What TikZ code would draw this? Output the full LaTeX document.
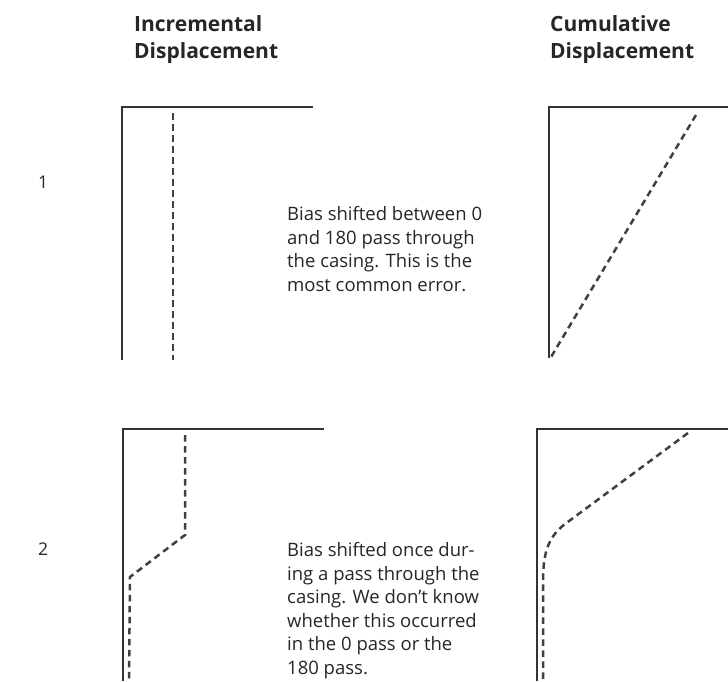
\documentclass[tikz,border=0pt]{standalone}
\usepackage{fontspec}
\setmainfont{Open Sans}
\usepackage{tikz}
\usetikzlibrary{positioning,calc}

\begin{document}
\begin{tikzpicture}[
    x=1pt, y=-1pt,
    head/.style={
        anchor=base west,
        inner sep=0pt,
        align=left,
        text=black!85,
        font=\fontsize{21}{27}\selectfont\bfseries
    },
    desc/.style={
        anchor=base west,
        inner sep=0pt,
        align=left,
        text=black!85,
        font=\fontsize{18.5}{23.5}\selectfont
    },
    num/.style={
        anchor=base west,
        inner sep=0pt,
        text=black!85,
        font=\fontsize{17.5}{21}\selectfont
    },
    frame/.style={
        draw=black!80,
        line width=1.8pt
    },
    trace/.style={
        draw=black!75,
        line width=2.5pt,
        dash pattern=on 6.5pt off 4.5pt
    }
]

\useasboundingbox (0,0) rectangle (728,681);

% column titles (base = last line)
\node[head] (inchead) at (134,58) {Incremental\\Displacement};
\node[head] (cumhead) at (550,58) {Cumulative\\Displacement};

% case numbers
\node[num] (one) at (38,188) {1};
\node[num] (two) at (38,555) {2};

% case 1
\coordinate (inc1) at (122,107);
\coordinate (cum1) at (549,107);
\draw[frame] (inc1 |- 0,360) -- (inc1) -- (313,107);
\draw[frame] (cum1 |- 0,358) -- (cum1) -- (728,107);
\draw[trace] (173,113) -- (173,360);
\draw[trace] (696,115) -- (551,357);

\node[desc] (note1) at (287,291)
{Bias shifted between 0\\
and 180 pass through\\
the casing. This is the\\
most common error.};

% case 2
\coordinate (inc2) at (123,429);
\coordinate (cum2) at (537,429);
\draw[frame] (inc2 |- 0,681) -- (inc2) -- (324,429);
\draw[frame] (cum2 |- 0,681) -- (cum2) -- (728,429);
\draw[trace] (185,435) -- (185,535) -- (130,577) -- (129,681);
\draw[trace] (688,433) -- (565,524) to[out=217,in=90] (543,585) -- (543,681);

\node[desc] (note2) at (287,674)
{Bias shifted once dur-\\
ing a pass through the\\
casing. We don't know\\
whether this occurred\\
in the 0 pass or the\\
180 pass.};

\end{tikzpicture}
\end{document}
